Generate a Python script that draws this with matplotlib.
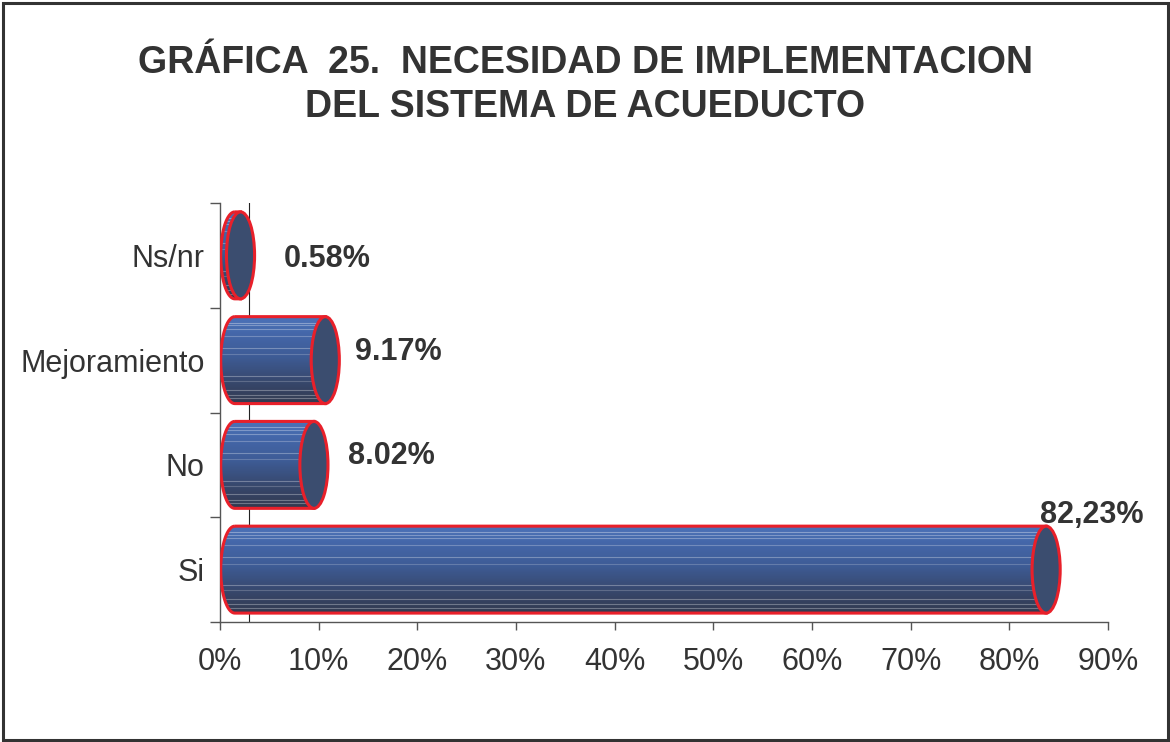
import numpy as np
import matplotlib
matplotlib.use("Agg")
import matplotlib.pyplot as plt
from matplotlib.path import Path
from matplotlib.patches import PathPatch, Ellipse, Rectangle
from matplotlib.colors import LinearSegmentedColormap

plt.rcParams['font.family'] = ['Liberation Sans', 'DejaVu Sans']

# datos de la grafica
categorias = ['Si', 'No', 'Mejoramiento', 'Ns/nr']
porcentajes = [82.23, 8.02, 9.17, 0.58]
etiquetas = ['82,23%', '8.02%', '9.17%', '0.58%']
ticks_x = [0, 10, 20, 30, 40, 50, 60, 70, 80, 90]

# desplazamiento manual de cada etiqueta (como en el original)
etiqueta_dx = [0.9, 4.95, 4.5, 5.9]
etiqueta_dy = [0.52, 0.08, 0.08, -0.03]

TEXTO = '#333333'
ROJO = '#e8202a'
TAPA = '#3b4d6f'
profundidad = 1.5      # desplazamiento 3D del cilindro (en %)
ancho_tapa = 2.85      # ancho de la elipse (en %)
alto_barra = 0.83

degradado = LinearSegmentedColormap.from_list(
    'cil', [(0.0, '#323a50'), (0.25, '#37476c'), (0.55, '#3e5c96'),
            (0.8, '#4466a8'), (1.0, '#4b72b8')])

fig = plt.figure(figsize=(11.7, 7.42), dpi=100)
ax = fig.add_axes([220 / 1170, 1 - 622 / 742, 888 / 1170, 419 / 742])

# linea de la pared del fondo (efecto 3D)
ax.axvline(2.94, color='#222222', lw=0.8, zorder=1)

for i, (cat, val) in enumerate(zip(categorias, porcentajes)):
    y0, y1 = i - alto_barra / 2, i + alto_barra / 2
    a, b = ancho_tapa / 2, alto_barra / 2
    x_fin = val + profundidad
    # contorno del cuerpo: arriba, derecha, abajo y media elipse izquierda
    t = np.linspace(np.pi * 1.5, np.pi * 0.5, 40)
    izq = np.column_stack([profundidad + a * np.cos(t), i + b * np.sin(t)])
    verts = np.vstack([[[profundidad, y1], [x_fin, y1], [x_fin, y0], [profundidad, y0]],
                       izq[1:], [[profundidad, y1]]])
    cuerpo = PathPatch(Path(verts), facecolor='none', edgecolor='none')
    ax.add_patch(cuerpo)
    img = ax.imshow(np.linspace(0, 1, 100).reshape(-1, 1), cmap=degradado,
                    extent=[0, x_fin, y0, y1], origin='lower', aspect='auto',
                    zorder=2)
    img.set_clip_path(cuerpo)
    # rayas claras del relleno
    for f, al in [(0.93, 0.35), (0.9, 0.3), (0.86, 0.3), (0.78, 0.25), (0.64, 0.3),
                  (0.57, 0.2), (0.32, 0.3), (0.26, 0.2), (0.16, 0.3), (0.1, 0.3),
                  (0.06, 0.3)]:
        ln, = ax.plot([0, x_fin], [y0 + f * alto_barra] * 2, color='white',
                      lw=0.8, alpha=al, zorder=3)
        ln.set_clip_path(cuerpo)
    ax.add_patch(PathPatch(Path(verts), facecolor='none', edgecolor=ROJO,
                           lw=2.2, zorder=4))
    ax.add_patch(Ellipse((x_fin, i), ancho_tapa, alto_barra, facecolor=TAPA,
                         edgecolor=ROJO, lw=2.2, zorder=5))
    ax.text(val + etiqueta_dx[i], i + etiqueta_dy[i], etiquetas[i],
            fontsize=22, fontweight='bold', color=TEXTO, ha='left',
            va='center', zorder=6)

ax.set_xlim(0, 90)
ax.set_ylim(-0.5, len(categorias) - 0.5)
ax.set_xticks(ticks_x)
ax.set_xticklabels([f'{v}%' for v in ticks_x])
ax.set_yticks(np.arange(len(categorias) + 1) - 0.5)
ax.set_yticklabels([])
ax.set_yticks(np.arange(len(categorias)), minor=True)
ax.set_yticklabels(categorias, minor=True)
ax.tick_params(axis='y', which='major', length=7, color='#555555', width=1)
ax.tick_params(axis='y', which='minor', length=0, pad=11, labelsize=22,
               labelcolor=TEXTO)
ax.tick_params(axis='x', length=6, color='#555555', width=1, pad=12,
               labelsize=22, labelcolor=TEXTO)
for s in ['top', 'right']:
    ax.spines[s].set_visible(False)
for s in ['left', 'bottom']:
    ax.spines[s].set_color('#555555')
    ax.spines[s].set_linewidth(1)

fig.text(0.5, 1 - 85 / 742,
         'GRÁFICA  25.  NECESIDAD DE IMPLEMENTACION\nDEL SISTEMA DE ACUEDUCTO',
         ha='center', va='center', fontsize=27, fontweight='bold',
         color=TEXTO, linespacing=1.3)

fig.patches.append(Rectangle((2.5 / 1170, 2.5 / 742), 1 - 5 / 1170, 1 - 5 / 742,
                             transform=fig.transFigure, fill=False,
                             edgecolor='#333333', lw=2.2))

fig.savefig('out.png', dpi=100)
